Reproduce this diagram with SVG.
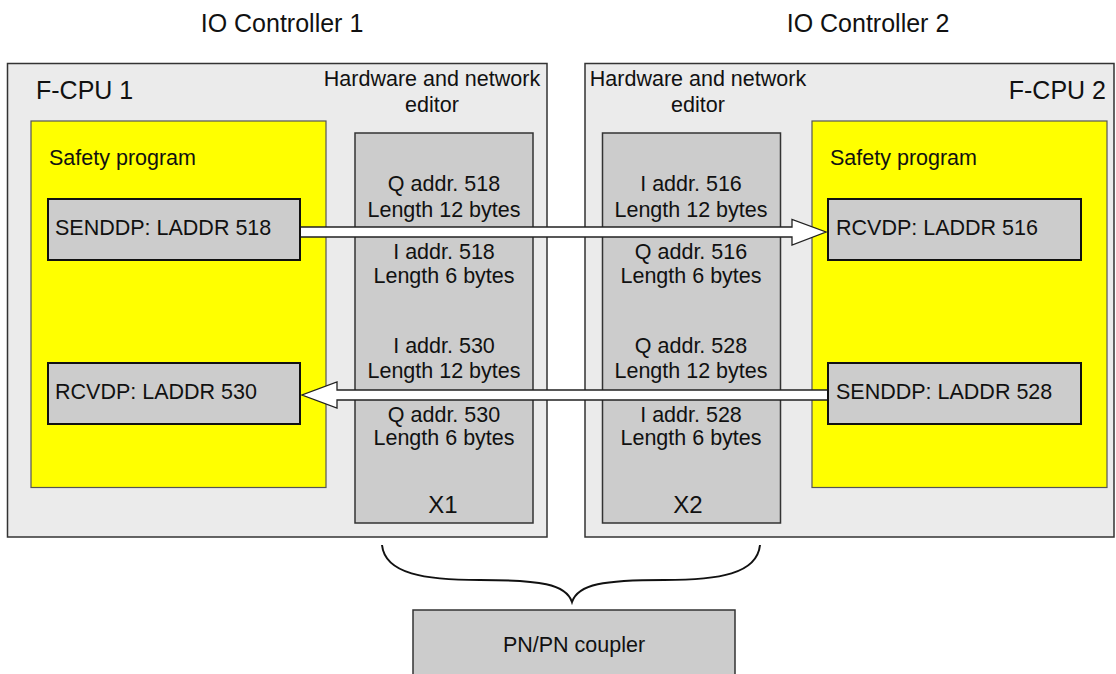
<svg xmlns="http://www.w3.org/2000/svg" width="1116" height="674" viewBox="0 0 1116 674">
<style>
text{font-family:"Liberation Sans",Arial,sans-serif;fill:#111;}
.title{font-size:25px;text-anchor:middle;}
.cpu{font-size:25px;}
.t21{font-size:21.5px;}
.mid{text-anchor:middle;}
.outer{fill:#ebebeb;stroke:#333;stroke-width:1.5;}
.yellow{fill:#ffff00;stroke:#555;stroke-width:1.2;}
.col{fill:#cccccc;stroke:#333;stroke-width:1.5;}
.blk{fill:#cccccc;stroke:#111;stroke-width:2;}
.arrow{fill:#fff;stroke:#222;stroke-width:1.3;stroke-linejoin:miter;}
.brace{fill:none;stroke:#111;stroke-width:2;}
</style>
<rect width="1116" height="674" fill="#fff"/>
<g id="title1"><text class="title" x="282" y="32">IO Controller 1</text></g>
<g id="title2"><text class="title" x="868" y="32">IO Controller 2</text></g>

<g id="fcpu1">
<rect class="outer" x="7.5" y="63.5" width="539.5" height="473.5"/>
<text class="cpu" x="36" y="99">F-CPU 1</text>
<text class="t21 mid" x="432" y="86">Hardware and network</text>
<text class="t21 mid" x="432" y="112">editor</text>
</g>
<g id="safety1">
<rect class="yellow" x="31" y="121" width="295" height="366.5"/>
<text class="t21" x="49" y="165">Safety program</text>
</g>
<g id="x1">
<rect class="col" x="355" y="133" width="178" height="390"/>
<text class="t21 mid" x="444" y="191">Q addr. 518</text>
<text class="t21 mid" x="444" y="217">Length 12 bytes</text>
<text class="t21 mid" x="444" y="259">I addr. 518</text>
<text class="t21 mid" x="444" y="283">Length 6 bytes</text>
<text class="t21 mid" x="444" y="353">I addr. 530</text>
<text class="t21 mid" x="444" y="378">Length 12 bytes</text>
<text class="t21 mid" x="444" y="422">Q addr. 530</text>
<text class="t21 mid" x="444" y="445">Length 6 bytes</text>
<text class="mid" x="443" y="513" font-size="24">X1</text>
</g>

<g id="fcpu2">
<rect class="outer" x="585" y="63.5" width="529" height="473.5"/>
<text class="cpu" x="1106" y="99" text-anchor="end">F-CPU 2</text>
<text class="t21 mid" x="698" y="86">Hardware and network</text>
<text class="t21 mid" x="698" y="112">editor</text>
</g>
<g id="safety2">
<rect class="yellow" x="812" y="121" width="295" height="366.5"/>
<text class="t21" x="830" y="165">Safety program</text>
</g>
<g id="x2">
<rect class="col" x="602.5" y="133" width="178" height="390"/>
<text class="t21 mid" x="691" y="191">I addr. 516</text>
<text class="t21 mid" x="691" y="217">Length 12 bytes</text>
<text class="t21 mid" x="691" y="259">Q addr. 516</text>
<text class="t21 mid" x="691" y="283">Length 6 bytes</text>
<text class="t21 mid" x="691" y="353">Q addr. 528</text>
<text class="t21 mid" x="691" y="378">Length 12 bytes</text>
<text class="t21 mid" x="691" y="422">I addr. 528</text>
<text class="t21 mid" x="691" y="445">Length 6 bytes</text>
<text class="mid" x="688" y="513" font-size="24">X2</text>
</g>

<g id="connectors">
<polygon class="arrow" points="300,227 792,227 792,219.5 826,232 792,245 792,237 300,237"/>
<polygon class="arrow" points="828,390 337,390 337,382 302,395 337,408 337,400 828,400"/>
<path class="brace" d="M382,545 C385,574 425,580 480,580 C540,580 566,584 572,602 C578,584 604,580 664,580 C719,580 757,574 760,545"/>
</g>

<g id="senddp518">
<rect class="blk" x="48" y="199" width="252" height="61"/>
<text class="t21" x="55" y="235">SENDDP: LADDR 518</text>
</g>
<g id="rcvdp530">
<rect class="blk" x="48" y="363" width="252" height="61"/>
<text class="t21" x="55" y="399">RCVDP: LADDR 530</text>
</g>
<g id="rcvdp516">
<rect class="blk" x="828" y="199" width="253" height="61"/>
<text class="t21" x="836" y="235">RCVDP: LADDR 516</text>
</g>
<g id="senddp528">
<rect class="blk" x="828" y="363" width="253" height="61"/>
<text class="t21" x="836" y="399">SENDDP: LADDR 528</text>
</g>

<g id="coupler">
<rect class="col" x="413" y="610" width="322" height="70"/>
<text class="t21 mid" x="574" y="652">PN/PN coupler</text>
</g>
</svg>
